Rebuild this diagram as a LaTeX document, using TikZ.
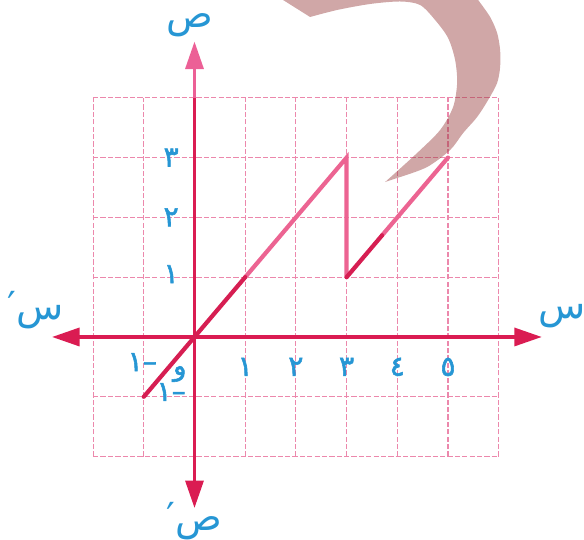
\documentclass[tikz,border=0pt]{standalone}
\usepackage{fontspec}
\usepackage{xcolor}
\usepackage{tikz}
\usetikzlibrary{arrows.meta, calc, positioning}
\newfontfamily\arabicfont[Script=Arabic]{DejaVu Sans}
\newfontfamily\arabicbold[Script=Arabic, FakeBold=2]{DejaVu Sans}
\TeXXeTstate=1
\definecolor{axisRed}{RGB}{218,28,82}
\definecolor{axisPink}{RGB}{236,96,150}
\definecolor{gridPink}{RGB}{236,136,172}
\definecolor{graphDark}{RGB}{214,30,82}
\definecolor{graphPink}{RGB}{236,100,146}
\definecolor{labelBlue}{RGB}{38,150,212}
\definecolor{stainRed}{RGB}{150,60,60}
\begin{document}
\begin{tikzpicture}[
    x=1.014cm, y=1.196cm,
    % Axis line with triangle heads
    axis/.style={line width=1.9pt, draw=axisRed},
    axtip/.style={-{Triangle[length=0.55cm, width=0.36cm]}},
    % Dashed squared paper
    gridline/.style={draw=gridPink, line width=0.6pt,
                     dash pattern=on 3pt off 1.2pt},
    % Graph of the function
    graph/.style={line width=2.4pt, line cap=round},
    lbl/.style={font=\arabicfont\fontsize{22}{24}\selectfont,
                text=labelBlue, inner sep=1pt},
    tick/.style={font=\arabicbold\fontsize{16}{18}\selectfont,
                 text=labelBlue, inner sep=1pt},
    wmark/.style={fill=stainRed, fill opacity=0.45}
]
\useasboundingbox (-3.836,-3.378) rectangle (7.682,5.635);
% ── GRID ──────────────────────────────────────────────────────
\draw[gridline, step={(1,1)}] (-2,-2) grid (6,4);
% ── STAIN over the upper right ────────────────────────────────
\begin{scope}[shift={(-3.836,5.635)}, x=0.02cm, y=-0.02cm]
\fill[wmark] (283,0) -- plot[smooth] coordinates {(310,17) (337,10)
        (370,4) (400,1.5) (420,5) (435,20) (448,38) (455,60) (457,83)
        (453,107) (440,130) (417,153) (385,182)}
    -- plot[smooth] coordinates {(400,177) (427,167) (450,150) (463,133)
        (477,117) (488,100) (497,83) (500,67) (500,50) (497,33)
        (490,17) (478,0)} -- cycle;
\end{scope}
% ── AXES ──────────────────────────────────────────────────────
\coordinate (xl)   at (-2.81, 0);
\coordinate (xr)   at ( 6.85, 0);
\coordinate (yt)   at ( 0,    4.94);
\coordinate (ytop) at ( 0,    4);
\coordinate (yb)   at ( 0,   -2.86);
\draw[axis, {Triangle[length=0.55cm, width=0.36cm]}-{Triangle[length=0.55cm, width=0.36cm]}]
    (xl) -- (xr);
\draw[axis, axtip] (ytop) -- (yb);
\draw[axis, axtip, draw=axisPink] (ytop) -- (yt);
% ── GRAPH ─────────────────────────────────────────────────────
\coordinate (p0) at (-1,-1);
\coordinate (p1) at ( 1, 1);
\coordinate (p2) at ( 3, 3);
\coordinate (p3) at ( 3, 1);
\coordinate (p4) at ( 3.7, 1.7);
\coordinate (p5) at ( 5, 3);
\draw[graph, draw=graphPink, line join=miter] (p1) -- (p2) -- (p3);
\draw[graph, draw=graphPink] (p4) -- (p5);
\draw[graph, draw=graphDark] (p0) -- (p1);
\draw[graph, draw=graphDark] (p3) -- (p4);
% ── AXIS NAMES ────────────────────────────────────────────────
\node[lbl] (ylbl)    at (-0.09, 5.22) {\beginR ص\endR};
\node[lbl] (ylblneg) at ( 0.00,-3.08) {\beginR ص′\endR};
\node[lbl] (xlbl)    at ( 7.25, 0.35) {\beginR س\endR};
\node[lbl] (xlblneg) at (-3.13, 0.45) {\beginR س′\endR};
% ── TICK NUMBERS ──────────────────────────────────────────────
\node[tick] (xt1)  at ( 1,   -0.5) {١};
\node[tick] (xt2)  at ( 2,   -0.5) {٢};
\node[tick] (xt3)  at ( 3,   -0.5) {٣};
\node[tick] (xt4)  at ( 4,   -0.5) {٤};
\node[tick] (xt5)  at ( 5,   -0.5) {٥};
\node[tick] (xtm1) at (-1.03,-0.42) {\beginR –١\endR};
\node[tick] (yt1)  at (-0.46, 1.05) {١};
\node[tick] (yt2)  at (-0.46, 2.0) {٢};
\node[tick] (yt3)  at (-0.46, 3.0) {٣};
\node[tick] (ytm1) at (-0.46,-0.92) {\beginR –١\endR};
\node[tick] (orig) at (-0.29,-0.62) {\beginR و\endR};
\end{tikzpicture}
\end{document}
